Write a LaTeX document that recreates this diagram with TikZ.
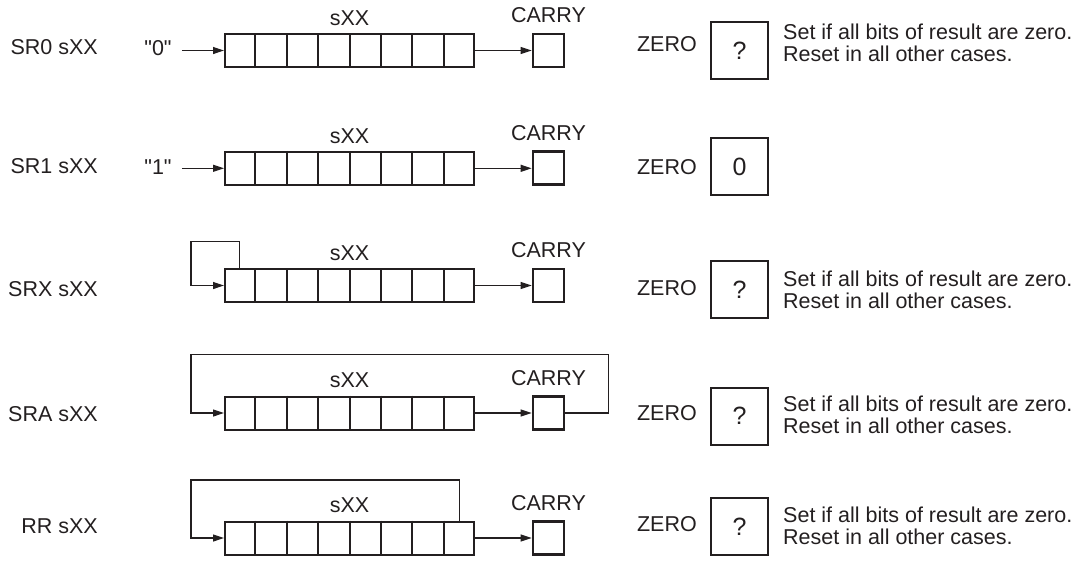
\documentclass[tikz,border=0pt]{standalone}
\usepackage{fontspec}
\setmainfont{Liberation Sans}
\usetikzlibrary{arrows.meta,calc}
\definecolor{ink}{HTML}{231F20}
\begin{document}
\begin{tikzpicture}[x=1pt,y=-1pt,
  every node/.style={text=ink, font=\fontsize{21.5}{22}\selectfont, inner sep=0pt},
  reg/.style={draw=ink, line width=2pt, minimum width=249pt, minimum height=33pt},
  cbox/.style={draw=ink, line width=2.7pt, minimum width=31pt, minimum height=33pt},
  zbox/.style={draw=ink, line width=2pt, minimum width=57pt, minimum height=57pt, font=\fontsize{25}{25}\selectfont},
  divider/.style={draw=ink, line width=2pt},
  wire/.style={draw=ink, line width=1.2pt},
  arr/.style={wire, -{Triangle[length=11pt,width=7pt]}},
  lbl/.style={anchor=east},
  desc/.style={anchor=west, align=left},
]
\useasboundingbox (0,0) rectangle (1085,560);

% registers, carry boxes, labels
\foreach \n/\y in {1/50.5,2/168.3,3/285.5,4/413,5/538}{
  \node[reg] (r\n) at (349.5,\y) {};
  \node[cbox] (c\n) at (548.5,\y) {};
  \foreach \i in {1,...,7}{
    \draw[divider] ($(r\n.north west)!\i/8!(r\n.north east)$) -- ($(r\n.south west)!\i/8!(r\n.south east)$);
  }
  \node (s\n) at (349.5,\y-32.5) {sXX};
  \node (k\n) at (548.5,\y-35) {CARRY};
  \draw[arr] (r\n.east) -- (c\n.west);
}

% row labels
\node[lbl] (l1) at (98,47) {SR0 sXX};
\node[lbl] (l2) at (98,166) {SR1 sXX};
\node[lbl] (l3) at (98,289) {SRX sXX};
\node[lbl] (l4) at (98,414) {SRA sXX};
\node[lbl] (l5) at (98,526) {RR sXX};

% constant inputs
\node (q1) at (158,48) {\textquotedbl 0\textquotedbl};
\node (q2) at (158,167) {\textquotedbl 1\textquotedbl};
\draw[arr] ([xshift=10pt]q1.east |- r1.west) -- (r1.west);
\draw[arr] ([xshift=10pt]q2.east |- r2.west) -- (r2.west);

% feedback loops
\coordinate (t3) at (191,241.7);
\draw[arr] ($(r3.north west)!0.0625!(r3.north east)$) |- (t3) |- (r3.west);
\coordinate (t4) at (191,354.3);
\draw[arr] (c4.east) -- ++(43,0) |- (t4) |- (r4.west);
\coordinate (t5) at (191,480);
\draw[arr] ($(r5.north west)!0.9375!(r5.north east)$) |- (t5) |- (r5.west);

% ZERO flags
\node[lbl] (zl1) at (697,44) {ZERO};
\node[lbl] (zl2) at (697,166.7) {ZERO};
\node[lbl] (zl3) at (697,288) {ZERO};
\node[lbl] (zl4) at (697,413) {ZERO};
\node[lbl] (zl5) at (697,524) {ZERO};
\node[zbox] (z1) at (739.5,50.7) {?};
\node[zbox] (z2) at (739.5,166.7) {0};
\node[zbox] (z3) at (739.5,289.7) {?};
\node[zbox] (z4) at (739.5,416) {?};
\node[zbox] (z5) at (739.5,526.7) {?};

\node[desc] (d1) at (783,43) {Set if all bits of result are zero.\\Reset in all other cases.};
\node[desc] (d3) at (783,289.7) {Set if all bits of result are zero.\\Reset in all other cases.};
\node[desc] (d4) at (783,415) {Set if all bits of result are zero.\\Reset in all other cases.};
\node[desc] (d5) at (783,526) {Set if all bits of result are zero.\\Reset in all other cases.};
\end{tikzpicture}
\end{document}
